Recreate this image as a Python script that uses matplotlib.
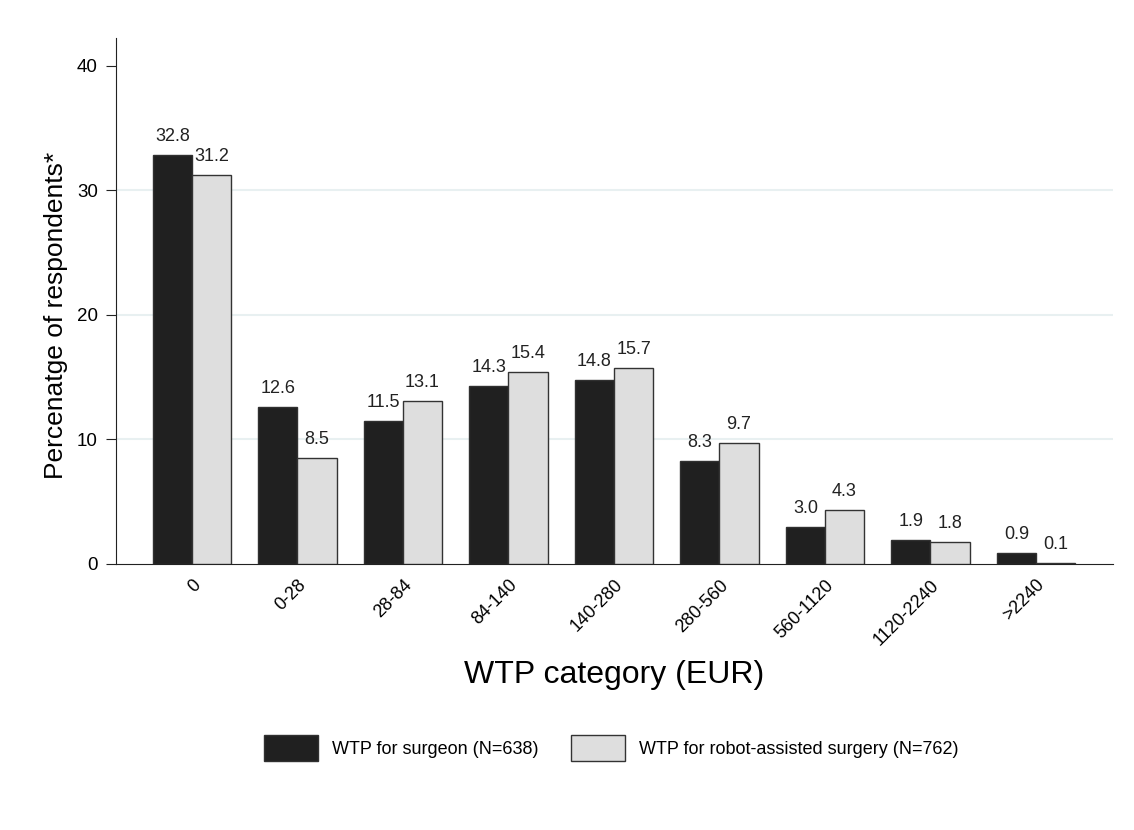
import matplotlib.pyplot as plt
import numpy as np

plt.rcParams['font.family'] = ['Liberation Sans', 'DejaVu Sans']

# Data
categories = ['0', '0-28', '28-84', '84-140', '140-280', '280-560',
              '560-1120', '1120-2240', '>2240']
surgeon = [32.8, 12.6, 11.5, 14.3, 14.8, 8.3, 3.0, 1.9, 0.9]
robot = [31.2, 8.5, 13.1, 15.4, 15.7, 9.7, 4.3, 1.8, 0.1]
series_labels = ['WTP for surgeon (N=638)', 'WTP for robot-assisted surgery (N=762)']

fig = plt.figure(figsize=(11.34, 8.3), dpi=100)
ax = fig.add_axes([0.1023, 0.3205, 0.8792, 0.6335])

x = np.arange(len(categories))
w = 0.37
b1 = ax.bar(x - w / 2, surgeon, w, color='#202020', edgecolor='#303030',
            linewidth=1.0, label=series_labels[0], zorder=3)
b2 = ax.bar(x + w / 2, robot, w, color='#dedede', edgecolor='#333333',
            linewidth=1.0, label=series_labels[1], zorder=3)

for bars, vals in [(b1, surgeon), (b2, robot)]:
    for rect, v in zip(bars, vals):
        ax.text(rect.get_x() + rect.get_width() / 2, v + 0.8, f'{v:.1f}',
                ha='center', va='bottom', fontsize=13, color='#222222')

ax.set_xlim(-0.72, 8.73)
ax.set_ylim(0, 42.2)
ax.set_yticks([0, 10, 20, 30, 40])
for yv in [10, 20, 30]:
    ax.axhline(yv, color='#e8f0f1', linewidth=1.5, zorder=0)

ax.set_xticks(x)
ax.set_xticklabels(categories, rotation=45, ha='right', rotation_mode='anchor',
                   fontsize=13)
ax.tick_params(axis='x', length=0, pad=9)
ax.tick_params(axis='y', length=7, labelsize=13.5, color='#222222', pad=6)

for s in ['top', 'right']:
    ax.spines[s].set_visible(False)
for s in ['left', 'bottom']:
    ax.spines[s].set_color('#222222')

ax.set_ylabel('Percenatge of respondents*', fontsize=19)
ax.yaxis.set_label_coords(-0.048, 0.473)
ax.set_xlabel('WTP category (EUR)', fontsize=23, labelpad=8)

fig.legend(handles=[b1, b2], labels=series_labels, loc='center',
           bbox_to_anchor=(0.539, 0.0988), ncol=2, frameon=False, fontsize=13,
           handlelength=3.0, handleheight=1.8, handletextpad=0.75,
           columnspacing=1.8)

fig.savefig('out.png', dpi=100)
